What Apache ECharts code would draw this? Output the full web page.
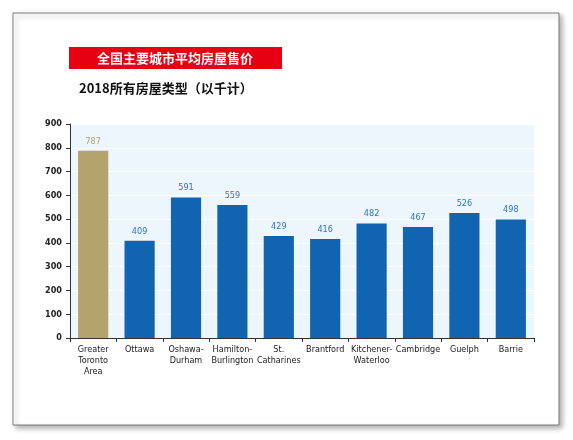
<!DOCTYPE html>
<html>
<head>
<meta charset="utf-8">
<script src="https://cdn.jsdelivr.net/npm/echarts@6/dist/echarts.min.js"></script>
<style>
  html, body { margin: 0; padding: 0; background: #fff; }
  #chart { width: 573px; height: 440px; }
</style>
</head>
<body>
<div id="chart"></div>
<script>
  var cities = ['Greater\nToronto\nArea', 'Ottawa', 'Oshawa-\nDurham', 'Hamilton-\nBurlington', 'St.\nCatharines',
    'Brantford', 'Kitchener-\nWaterloo', 'Cambridge', 'Guelph', 'Barrie'];
  var prices = [787, 409, 591, 559, 429, 416, 482, 467, 526, 498];
  var yTicks = [0, 100, 200, 300, 400, 500, 600, 700, 800, 900];

  var chart = echarts.init(document.getElementById('chart'));

  var barData = prices.map(function (v, i) {
    if (i === 0) {
      return {
        value: v,
        itemStyle: { color: '#b3a46d' },
        label: { color: '#b3a46d' }
      };
    }
    return v;
  });

  var option = {
    animation: false,
    backgroundColor: '#fff',
    graphic: [
      {
        type: 'rect',
        shape: { x: 13, y: 13, width: 546, height: 412 },
        style: {
          fill: '#fff',
          stroke: '#7a7a7a',
          lineWidth: 1,
          shadowBlur: 5,
          shadowOffsetX: 3,
          shadowOffsetY: 3,
          shadowColor: 'rgba(0,0,0,0.3)'
        },
        z: -10
      },
      {
        type: 'rect',
        shape: { x: 69, y: 47, width: 213, height: 22 },
        style: { fill: '#e60012' },
        z: 1
      },
      {
        type: 'text',
        x: 175,
        y: 58,
        style: {
          text: '全国主要城市平均房屋售价',
          fill: '#fff',
          font: 'bold 13px "Noto Sans CJK SC"',
          align: 'center',
          verticalAlign: 'middle'
        },
        z: 2
      },
      {
        type: 'text',
        x: 79,
        y: 88,
        style: {
          text: '2018所有房屋类型（以千计）',
          fill: '#111',
          font: 'bold 13px "Noto Sans CJK SC"',
          align: 'left',
          verticalAlign: 'middle'
        },
        z: 2
      }
    ],
    grid: {
      left: 70,
      right: 39,
      top: 124,
      bottom: 102,
      show: true,
      backgroundColor: '#eef6fd',
      borderWidth: 0
    },
    xAxis: {
      type: 'category',
      data: cities,
      axisLine: { lineStyle: { color: '#333', width: 1 } },
      axisTick: { show: true, alignWithLabel: false, length: 4, lineStyle: { color: '#333' } },
      axisLabel: {
        color: '#1a1a1a',
        fontSize: 9,
        fontFamily: 'DejaVu Sans Condensed',
        lineHeight: 11,
        margin: 6,
        interval: 0
      }
    },
    yAxis: {
      type: 'value',
      min: 0,
      max: 900,
      interval: 100,
      axisLine: { show: true, lineStyle: { color: '#333', width: 1 } },
      axisTick: { show: true, length: 4, lineStyle: { color: '#333' } },
      axisLabel: {
        color: '#222',
        fontSize: 9,
        fontWeight: 'bold',
        fontFamily: 'DejaVu Sans Condensed',
        margin: 8,
        formatter: function (v) { return yTicks.indexOf(v) >= 0 ? String(v) : ''; }
      },
      splitLine: { show: true, lineStyle: { color: '#ffffff', width: 1 } }
    },
    series: [
      {
        type: 'bar',
        data: barData,
        barWidth: '65%',
        itemStyle: { color: '#1064b0' },
        label: {
          show: true,
          position: 'top',
          distance: 5,
          color: '#2a78c8',
          fontSize: 9,
          fontFamily: 'DejaVu Sans Condensed'
        }
      }
    ]
  };

  chart.setOption(option);
</script>
</body>
</html>
